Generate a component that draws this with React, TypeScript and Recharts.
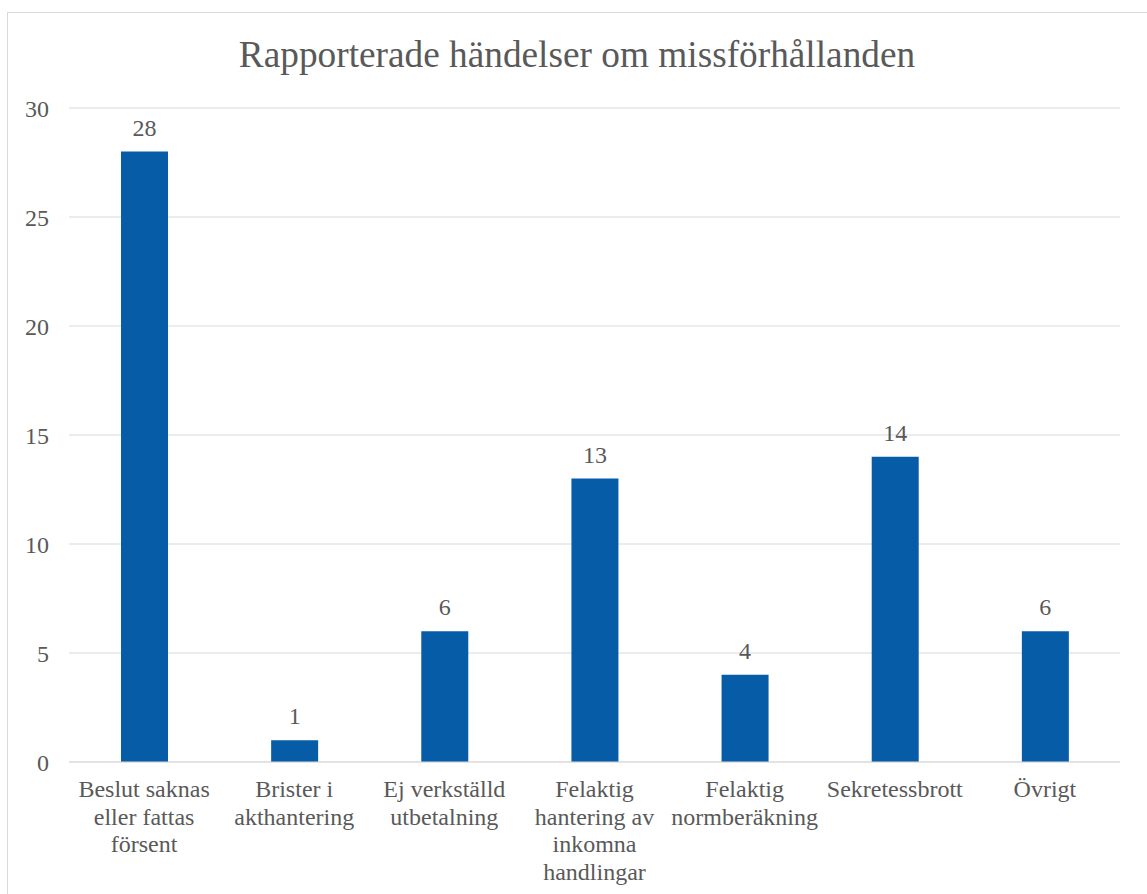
import React from "react";
import { BarChart, Bar, XAxis, YAxis, CartesianGrid, LabelList } from "recharts";

// kategorier, radbrytningar som i originalet
const categories = [
  "Beslut saknas\neller fattas\nförsent",
  "Brister i\nakthantering",
  "Ej verkställd\nutbetalning",
  "Felaktig\nhantering av\ninkomna\nhandlingar",
  "Felaktig\nnormberäkning",
  "Sekretessbrott",
  "Övrigt",
];
const counts = [28, 1, 6, 13, 4, 14, 6];
const yTicks = [0, 5, 10, 15, 20, 25, 30];

const data = categories.map((c, i) => ({ name: c, antal: counts[i] }));

const FONT = '"Liberation Serif", serif';
const TEXT = "#595959";
const FS = 24;

const CategoryTick = ({ x, y, payload }: any) => {
  const lines = String(payload.value).split("\n");
  return (
    <text x={x} y={y} textAnchor="middle" fill={TEXT} style={{ fontFamily: FONT, fontSize: FS }}>
      {lines.map((l, i) => (
        <tspan key={i} x={x} y={y + 35 + i * 27.6}>{l}</tspan>
      ))}
    </text>
  );
};

export default function App() {
  return (
    <div
      style={{
        position: "absolute", left: 7, top: 12, width: 1160, height: 900,
        border: "1px solid #d9d9d9", boxSizing: "border-box", background: "#fff",
        fontFamily: FONT,
      }}
    >
      <div
        style={{
          position: "absolute", left: 0, top: 23, width: 1138, textAlign: "center",
          fontSize: 37.3, lineHeight: "37.3px", color: TEXT, fontFamily: FONT,
        }}
      >
        Rapporterade händelser om missförhållanden
      </div>
      <BarChart
        width={1158}
        height={898}
        data={data}
        margin={{ top: 95, right: 46, left: 0, bottom: 29 }}
        barSize={47}
        style={{ fontFamily: FONT }}
      >
        <CartesianGrid vertical={false} stroke="#d9d9d9" />
        <XAxis
          dataKey="name"
          interval={0}
          height={120}
          tickSize={0}
          tickMargin={0}
          axisLine={{ stroke: "#d9d9d9" }}
          tickLine={false}
          tick={<CategoryTick />}
        />
        <YAxis
          domain={[0, 30]}
          ticks={yTicks}
          width={61}
          tickSize={0}
          tickMargin={20}
          axisLine={false}
          tickLine={false}
          tick={{ fill: TEXT, fontSize: FS, fontFamily: FONT }}
        />
        <Bar dataKey="antal" fill="#075ca8" isAnimationActive={false}>
          <LabelList
            dataKey="antal"
            position="top"
            offset={16}
            fill={TEXT}
            fontSize={FS}
            fontFamily={FONT}
          />
        </Bar>
      </BarChart>
    </div>
  );
}
